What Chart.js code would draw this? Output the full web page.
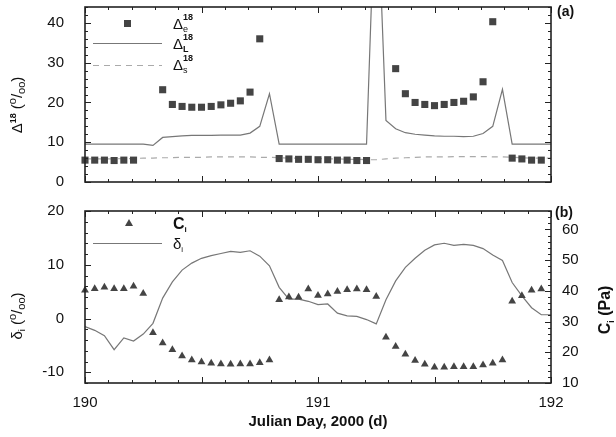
<!DOCTYPE html>
<html><head><meta charset="utf-8">
<script src="https://cdn.jsdelivr.net/npm/chart.js@4.4.1/dist/chart.umd.min.js"></script>
<style>
html,body{margin:0;padding:0;background:#fff;}
#wrap{position:relative;width:616px;height:437px;overflow:hidden;}
#c1{position:absolute;left:0;top:0;}
#c2{position:absolute;left:0;top:200px;}
</style></head><body>
<div id="wrap">
<canvas id="c1" width="616" height="190"></canvas>
<canvas id="c2" width="616" height="237"></canvas>
</div>
<script>
// ---------- data (time in hours after the start of Julian Day 190) ----------
const X_TICKS = [190, 191, 192];
const Y_TOP_TICKS = [0, 10, 20, 30, 40];
const Y_LEFT_TICKS = [-10, 0, 10, 20];
const Y_RIGHT_TICKS = [10, 20, 30, 40, 50, 60];

const HOURS_E = [0,1,2,3,4,5, 8,9,10,11,12,13,14,15,16,17,18, 20,21,22,23,24,25,26,27,28,29, 32,33,34,35,36,37,38,39,40,41,42, 44,45,46,47];
const DELTA_E = [5.5,5.5,5.5,5.4,5.5,5.5, 23.2,19.5,19.0,18.8,18.8,19.0,19.4,19.8,20.4,22.6,36.0, 5.9,5.8,5.7,5.7,5.6,5.6,5.5,5.5,5.4,5.4, 28.5,22.2,20.0,19.5,19.2,19.5,20.0,20.3,21.4,25.2,40.3, 6.0,5.8,5.5,5.5];

const HOURS_LINE = [0,1,2,3,4,5,6,7,8,9,10,11,12,13,14,15,16,17,18,19,20,21,22,23,24,25,26,27,28,29,30,31,32,33,34,35,36,37,38,39,40,41,42,43,44,45,46,47,48];
const DELTA_L = [9.5,9.5,9.5,9.5,9.5,9.5,9.5,9.2,11.2,11.4,11.6,11.7,11.7,11.7,11.8,11.8,11.8,12.3,14.0,22.2,9.5,9.5,9.5,9.5,9.5,9.5,9.5,9.5,9.5,9.5,80,15.5,13.4,12.4,12.0,11.8,11.6,11.5,11.5,11.4,11.5,12.2,14.0,23.3,9.5,9.5,9.5,9.5,9.5];
const DELTA_S = [5.8,5.8,5.8,5.8,5.9,5.9,6.0,6.0,6.1,6.1,6.2,6.2,6.2,6.3,6.3,6.3,6.3,6.3,6.2,6.2,6.1,6.0,6.0,5.9,5.9,5.8,5.8,5.7,5.7,5.6,5.6,5.8,6.0,6.1,6.2,6.3,6.3,6.3,6.4,6.4,6.4,6.4,6.3,6.3,6.2,6.1,6.0,6.0,6.0];
const DELTA_I = [-1.5,-2.2,-3.2,-5.8,-3.6,-4.2,-2.9,-0.9,3.8,6.8,9.0,10.3,11.2,11.7,12.1,12.5,12.3,12.6,11.6,9.8,5.8,3.6,3.6,3.2,2.6,2.7,1.0,0.5,0.4,-0.2,-1.0,3.5,7.0,9.5,11.2,12.7,13.7,14.0,13.6,13.8,13.6,13.0,11.8,10.8,6.7,4.2,2.0,0.7,0.7];

const HOURS_CI = [0,1,2,3,4,5,6,7,8,9,10,11,12,13,14,15,16,17,18,19,20,21,22,23,24,25,26,27,28,29,30,31,32,33,34,35,36,37,38,39,40,41,42,43,44,45,46,47];
const CI = [40.2,40.7,41.2,40.7,40.7,41.5,39.1, 26.4,23.0,20.8,18.8,17.5,16.8,16.4,16.2,16.1,16.2,16.2,16.6,17.5, 37.1,38.0,37.9,40.6,38.5,39.0,39.8,40.4,40.6,40.4,38.2, 24.9,21.9,19.4,17.3,16.1,15.1,15.1,15.3,15.3,15.3,15.9,16.4,17.5, 36.6,38.4,40.2,40.6];

// ---------- helpers ----------
const FAM = '"Liberation Sans", Arial, sans-serif';
const toDay = h => 190 + h / 24;
const pts = (hs, vs) => hs.map((h, i) => ({ x: toDay(h), y: vs[i] }));
const setTicks = vals => s => { s.ticks = vals.map(v => ({ value: v })); };
const fixV = w => s => { s.width = w; s.paddingTop = 0; s.paddingBottom = 0; };
const fixH = h => s => { s.height = h; s.paddingLeft = 0; s.paddingRight = 0; };

function drawRich(ctx, runs, x, y, align) {
  let w = 0;
  for (const r of runs) { ctx.font = r.f; if (r.adv !== false) w += ctx.measureText(r.t).width; }
  let cx = align === 'center' ? x - w / 2 : x;
  ctx.textBaseline = 'alphabetic';
  ctx.textAlign = 'left';
  for (const r of runs) {
    ctx.font = r.f;
    ctx.fillText(r.t, cx, y + (r.dy || 0));
    if (r.adv !== false) cx += ctx.measureText(r.t).width;
  }
}

// inward ticks + frame
const frameTicks = {
  id: 'frameTicks',
  afterDatasetsDraw(chart, args, o) {
    const { ctx, chartArea: a, scales } = chart;
    ctx.save();
    ctx.strokeStyle = '#222';
    ctx.lineWidth = 1;
    ctx.beginPath();
    const xs = scales.x;
    for (let k = 0; k <= 20; k++) {
      const px = Math.round(xs.getPixelForValue(190 + k * 0.1)) + 0.5;
      const len = (k % 5 === 0) ? 6 : 3;
      ctx.moveTo(px, a.bottom); ctx.lineTo(px, a.bottom - len);
      ctx.moveTo(px, a.top); ctx.lineTo(px, a.top + len);
    }
    for (const d of o.y) {
      const sc = scales[d.id];
      const n = Math.round((d.max - d.min) / d.minor);
      for (let k = 0; k <= n; k++) {
        const v = d.min + k * d.minor;
        const py = Math.round(sc.getPixelForValue(v)) + 0.5;
        const len = (Math.abs(v / d.major - Math.round(v / d.major)) < 1e-6) ? 6 : 3;
        for (const side of d.sides) {
          if (side === 'left') { ctx.moveTo(a.left, py); ctx.lineTo(a.left + len, py); }
          else { ctx.moveTo(a.right, py); ctx.lineTo(a.right - len, py); }
        }
      }
    }
    ctx.stroke();
    ctx.lineWidth = 1.6;
    ctx.strokeRect(a.left, a.top, a.width, a.height);
    ctx.restore();
  }
};

const annot = {
  id: 'annot',
  afterDraw(chart, args, o) {
    const ctx = chart.ctx;
    ctx.save();
    ctx.fillStyle = '#111';
    o.draw(ctx, chart);
    ctx.restore();
  }
};

const baseX = {
  type: 'linear', min: 190, max: 192,
  grid: { display: false }, border: { display: false }
};
const tickFont = { family: FAM, size: 15 };

// ---------- top panel ----------
new Chart(document.getElementById('c1'), {
  type: 'line',
  data: {
    datasets: [
      { label: 'Δe18', data: pts(HOURS_E, DELTA_E), showLine: false, pointStyle: 'rect', pointRadius: 5, pointBackgroundColor: '#444', pointBorderWidth: 0, clip: false },
      { label: 'ΔL18', data: pts(HOURS_LINE, DELTA_L), borderColor: '#777', borderWidth: 1.2, pointRadius: 0, tension: 0 },
      { label: 'Δs18', data: pts(HOURS_LINE, DELTA_S), borderColor: '#aaa', borderWidth: 1.2, borderDash: [6, 5], pointRadius: 0, tension: 0 }
    ]
  },
  options: {
    responsive: false, animation: false,
    layout: { padding: { top: 7, right: 65, left: 0, bottom: 0 } },
    scales: {
      x: Object.assign({}, baseX, { ticks: { display: false }, afterFit: fixH(8) }),
      y: {
        min: 0, max: 44,
        grid: { display: false }, border: { display: false },
        afterBuildTicks: setTicks(Y_TOP_TICKS),
        ticks: { font: tickFont, color: '#111', padding: 13 },
        afterFit: fixV(85)
      }
    },
    plugins: {
      legend: { display: false }, tooltip: { enabled: false },
      frameTicks: { y: [{ id: 'y', min: 0, max: 44, minor: 2, major: 10, sides: ['left', 'right'] }] },
      annot: {
        draw(ctx, chart) {
          const big = '15px ' + FAM, sm = 'bold 9px ' + FAM, smn = '9px ' + FAM;
          ctx.save(); ctx.translate(22, 105); ctx.rotate(-Math.PI / 2);
          drawRich(ctx, [
            { t: 'Δ', f: big }, { t: '18', f: sm, dy: -6 }, { t: ' (', f: big },
            { t: 'o', f: '11px ' + FAM, dy: -6 }, { t: '/', f: big }, { t: 'oo', f: '11px ' + FAM, dy: 3 }, { t: ')', f: big }
          ], 0, 0, 'center');
          ctx.restore();
          ctx.font = 'bold 14px ' + FAM; ctx.textBaseline = 'middle'; ctx.textAlign = 'left';
          ctx.fillText('(a)', 557, 12);
          ctx.fillStyle = '#444';
          ctx.fillRect(124, 20, 7, 7);
          ctx.strokeStyle = '#777'; ctx.lineWidth = 1.2;
          ctx.beginPath(); ctx.moveTo(93, 43.5); ctx.lineTo(162, 43.5); ctx.stroke();
          ctx.strokeStyle = '#aaa'; ctx.setLineDash([6, 5]);
          ctx.beginPath(); ctx.moveTo(93, 65.5); ctx.lineTo(162, 65.5); ctx.stroke();
          ctx.setLineDash([]);
          ctx.fillStyle = '#111';
          const sub = ['e', 'L', 's'];
          [29, 49, 70].forEach((by, i) => {
            drawRich(ctx, [
              { t: 'Δ', f: big }, { t: '18', f: sm, dy: -9, adv: false }, { t: sub[i], f: i === 1 ? sm : smn, dy: 3 }
            ], 173, by, 'left');
          });
        }
      }
    }
  },
  plugins: [frameTicks, annot]
});

// ---------- bottom panel ----------
new Chart(document.getElementById('c2'), {
  type: 'line',
  data: {
    datasets: [
      { label: 'Ci', data: pts(HOURS_CI, CI), yAxisID: 'yR', showLine: false, pointStyle: 'triangle', pointRadius: 4.5, pointBackgroundColor: '#444', pointBorderWidth: 0, clip: false },
      { label: 'δi', data: pts(HOURS_LINE, DELTA_I), yAxisID: 'y', borderColor: '#777', borderWidth: 1.2, pointRadius: 0, tension: 0 }
    ]
  },
  options: {
    responsive: false, animation: false,
    layout: { padding: { top: 11, right: 0, left: 0, bottom: 0 } },
    scales: {
      x: Object.assign({}, baseX, {
        afterBuildTicks: setTicks(X_TICKS),
        ticks: { font: tickFont, color: '#111', padding: 3, maxRotation: 0, autoSkip: false },
        afterFit: fixH(54)
      }),
      y: {
        position: 'left', min: -12, max: 20,
        grid: { display: false }, border: { display: false },
        afterBuildTicks: setTicks(Y_LEFT_TICKS),
        ticks: { font: tickFont, color: '#111', padding: 13 },
        afterFit: fixV(85)
      },
      yR: {
        position: 'right', min: 10, max: 66,
        grid: { display: false }, border: { display: false },
        afterBuildTicks: setTicks(Y_RIGHT_TICKS),
        ticks: { font: tickFont, color: '#111', padding: 3 },
        afterFit: fixV(65)
      }
    },
    plugins: {
      legend: { display: false }, tooltip: { enabled: false },
      frameTicks: { y: [
        { id: 'y', min: -12, max: 20, minor: 2, major: 10, sides: ['left'] },
        { id: 'yR', min: 10, max: 66, minor: 2, major: 10, sides: ['right'] }
      ] },
      annot: {
        draw(ctx, chart) {
          const big = '15px ' + FAM, bigb = 'bold 16px ' + FAM;
          ctx.save(); ctx.translate(22, 116); ctx.rotate(-Math.PI / 2);
          drawRich(ctx, [
            { t: 'δ', f: big }, { t: 'i', f: '9px ' + FAM, dy: 3 }, { t: ' (', f: big },
            { t: 'o', f: '11px ' + FAM, dy: -6 }, { t: '/', f: big }, { t: 'oo', f: '11px ' + FAM, dy: 3 }, { t: ')', f: big }
          ], 0, 0, 'center');
          ctx.restore();
          ctx.save(); ctx.translate(604, 110); ctx.rotate(-Math.PI / 2);
          drawRich(ctx, [
            { t: 'C', f: bigb }, { t: 'i', f: 'bold 9px ' + FAM, dy: 4 }, { t: ' (Pa)', f: bigb }
          ], 0, 6, 'center');
          ctx.restore();
          ctx.font = 'bold 15px ' + FAM; ctx.textAlign = 'center'; ctx.textBaseline = 'alphabetic';
          ctx.fillText('Julian Day, 2000 (d)', 318, 226);
          ctx.font = 'bold 14px ' + FAM; ctx.textAlign = 'left'; ctx.textBaseline = 'middle';
          ctx.fillText('(b)', 555, 13);
          ctx.fillStyle = '#444';
          ctx.beginPath(); ctx.moveTo(129, 19); ctx.lineTo(133, 26); ctx.lineTo(125, 26); ctx.closePath(); ctx.fill();
          ctx.strokeStyle = '#777'; ctx.lineWidth = 1.2;
          ctx.beginPath(); ctx.moveTo(93, 43.5); ctx.lineTo(162, 43.5); ctx.stroke();
          ctx.fillStyle = '#111';
          drawRich(ctx, [{ t: 'C', f: bigb }, { t: 'i', f: 'bold 8px ' + FAM, dy: 3 }], 173, 29, 'left');
          drawRich(ctx, [{ t: 'δ', f: big }, { t: 'i', f: '8px ' + FAM, dy: 3 }], 173, 49, 'left');
        }
      }
    }
  },
  plugins: [frameTicks, annot]
});
</script>
</body></html>
